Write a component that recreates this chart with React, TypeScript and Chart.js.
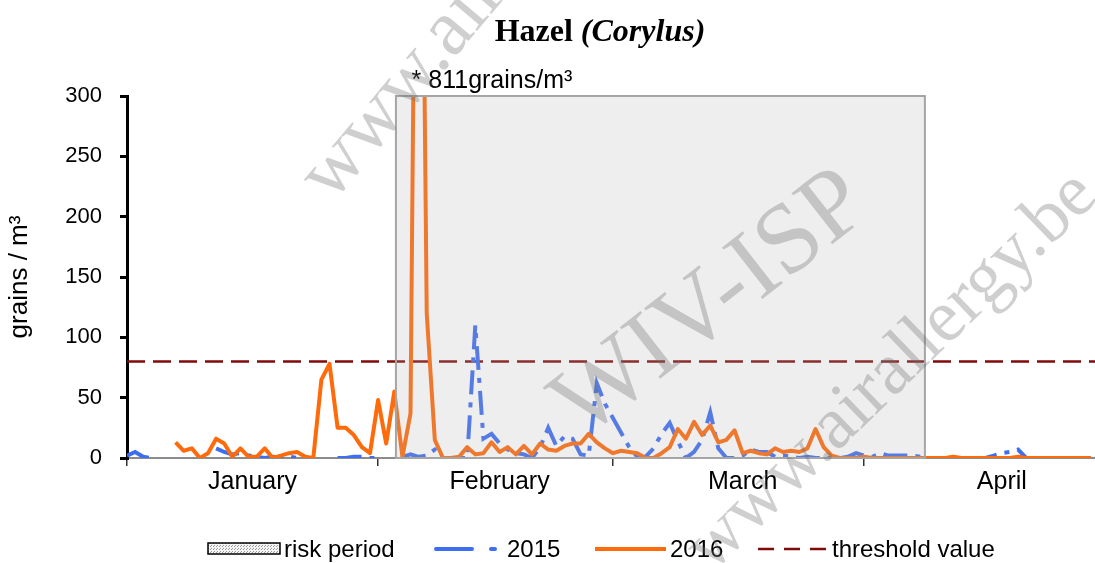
import React, { useEffect, useRef } from "react";
import { Chart, registerables } from "chart.js";

Chart.register(...registerables);

// ---------- data ----------
const TITLE_MAIN = "Hazel ";
const TITLE_LATIN = "(Corylus)";
const Y_TITLE = "grains / m³";
const MONTHS = ["January", "February", "March", "April"];
const MONTH_STARTS = [0, 31, 60, 91]; // day index of 1st of month
const MONTH_LABEL_AT = [15.5, 46, 76, 108];
const X_MAX = 119.5;
const Y_MAX = 300;
const Y_STEP = 50;

// daily values, day 0 = 1 January
const POLLEN_2015 = [
  2, 5, 1, 0, null, null, null, null, null, null,
  null, 8, 5, 3, 4, 2, 1, 0, 1, 0,
  1, 0, null, null, null, null, 0, 0, 1, 1,
  0, 0, null, null, 1, 3, 1, 2, 7, 0,
  0, 0, 0, 110, 16, 20, 12, 7, 4, 3,
  0, 9, 25, 10, 18, 16, 3, 2, 62, 45,
  33, 21, 9, 1, 1, 8, 20, 29, 14, 0,
  5, 15, 38, 8, 0, 0, 2, 7, 5, 5,
  1, 2, 1, 0, 1, 0, 0, 0, 0, 1,
  4, 2, 1, 4, 2, 2, 2, 2, 1, 0,
  0, 0, 0, 0, 0, 0, 0, 2, 4, 5,
  7, 0, 0, 0, 0, 0, 0, 0, 0, 0,
];

const POLLEN_2016 = [
  null, null, null, null, null, null, 13, 6, 8, 0,
  4, 16, 12, 1, 8, 1, 1, 8, 0, 2,
  4, 5, 1, 0, 65, 78, 25, 25, 19, 9,
  4, 48, 12, 55, 1, 37, 811, 120, 15, 0,
  0, 1, 9, 3, 4, 13, 5, 9, 3, 10,
  3, 12, 7, 6, 10, 12, 12, 20, 13, 8,
  4, 6, 5, 4, 0, 0, 4, 9, 24, 16,
  30, 19, 27, 13, 15, 23, 4, 6, 4, 3,
  8, 5, 6, 5, 8, 24, 9, 2, 0, 0,
  0, 1, 0, 0, 0, 0, 0, 0, 0, 0,
  0, 0, 1, 0, 0, 0, 0, 0, 0, 0,
  1, 0, 0, 0, 0, 0, 0, 0, 0, 0,
];

const THRESHOLD = 80;
const RISK_PERIOD = [33.2, 98.5]; // start / end day
const PEAK_DAY = 36;
const PEAK_NOTE = "* 811grains/m³";
const LEGEND_LABELS = ["risk period", "2015", "2016", "threshold value"];

const COLOR_2015 = "#3d6ef2";
const COLOR_2016 = "#ff6a0a";
const COLOR_THRESHOLD = "#800a0a";

const toPoints = (arr: (number | null)[]) => arr.map((v, i) => ({ x: i, y: v }));

export default function App() {
  const ref = useRef<HTMLCanvasElement | null>(null);

  useEffect(() => {
    const canvas = ref.current;
    if (!canvas) return;
    Chart.defaults.font.family = '"Liberation Sans", Arial, sans-serif';

    const decor = {
      id: "decor",
      afterDatasetsDraw(chart: any) {
        const { ctx, scales } = chart;
        const x = scales.x, y = scales.y;
        const x0 = x.getPixelForValue(RISK_PERIOD[0]);
        const x1 = x.getPixelForValue(RISK_PERIOD[1]);
        const yt = y.getPixelForValue(Y_MAX);
        const yb = y.getPixelForValue(0);
        ctx.save();
        ctx.fillStyle = "rgba(178,178,178,0.22)";
        ctx.fillRect(x0, yt, x1 - x0, yb - yt);
        ctx.strokeStyle = "#a5a5a5";
        ctx.lineWidth = 2;
        ctx.strokeRect(x0, yt, x1 - x0, yb - yt);
        ctx.restore();
      },
      afterDraw(chart: any) {
        const { ctx, scales } = chart;
        const x = scales.x, y = scales.y;
        ctx.save();
        // title
        ctx.fillStyle = "#000";
        ctx.textBaseline = "alphabetic";
        ctx.textAlign = "left";
        ctx.font = 'bold 32px "Liberation Serif"';
        const w1 = ctx.measureText(TITLE_MAIN).width;
        ctx.font = 'italic bold 32px "Liberation Serif"';
        const w2 = ctx.measureText(TITLE_LATIN).width;
        const tx = 600 - (w1 + w2) / 2;
        ctx.font = 'bold 32px "Liberation Serif"';
        ctx.fillText(TITLE_MAIN, tx, 41);
        ctx.font = 'italic bold 32px "Liberation Serif"';
        ctx.fillText(TITLE_LATIN, tx + w1, 41);

        // peak note
        ctx.font = '25px "Liberation Sans"';
        ctx.fillText(PEAK_NOTE, x.getPixelForValue(PEAK_DAY) - 7, y.getPixelForValue(Y_MAX) - 8);

        // legend
        const ly = 549;
        const pc = document.createElement("canvas");
        pc.width = 3; pc.height = 3;
        const pctx = pc.getContext("2d")!;
        pctx.fillStyle = "#f4f4f4"; pctx.fillRect(0, 0, 3, 3);
        pctx.fillStyle = "#9a9a9a"; pctx.fillRect(0, 0, 1, 1); pctx.fillRect(1, 2, 1, 1);
        ctx.fillStyle = ctx.createPattern(pc, "repeat");
        ctx.fillRect(208, 543, 72, 11);
        ctx.strokeStyle = "#000"; ctx.lineWidth = 1.5;
        ctx.strokeRect(208, 543, 72, 11);

        ctx.font = '24px "Liberation Sans"';
        ctx.fillStyle = "#000";
        ctx.textBaseline = "middle";
        ctx.fillText(LEGEND_LABELS[0], 284, ly + 1);

        ctx.lineCap = "round";
        ctx.strokeStyle = COLOR_2015; ctx.lineWidth = 4;
        ctx.beginPath(); ctx.moveTo(436, ly); ctx.lineTo(472, ly); ctx.stroke();
        ctx.beginPath(); ctx.moveTo(491, ly); ctx.lineTo(495, ly); ctx.stroke();
        ctx.fillText(LEGEND_LABELS[1], 507, ly + 1);

        ctx.lineCap = "butt";
        ctx.strokeStyle = COLOR_2016; ctx.lineWidth = 4;
        ctx.beginPath(); ctx.moveTo(595, ly); ctx.lineTo(666, ly); ctx.stroke();
        ctx.fillText(LEGEND_LABELS[2], 670, ly + 1);

        ctx.strokeStyle = COLOR_THRESHOLD; ctx.lineWidth = 2.5;
        [758, 784, 810].forEach((s) => {
          ctx.beginPath(); ctx.moveTo(s, ly); ctx.lineTo(s + 16, ly); ctx.stroke();
        });
        ctx.fillText(LEGEND_LABELS[3], 832, ly + 1);

        // watermark
        ctx.fillStyle = "rgba(110,110,110,0.33)";
        ctx.textAlign = "center";
        ctx.textBaseline = "middle";
        ctx.font = '100px "Liberation Serif"';
        ctx.translate(712, 305);
        ctx.rotate((-38 * Math.PI) / 180);
        ctx.fillText("WIV-ISP", 0, 0);
        ctx.setTransform(1, 0, 0, 1, 0, 0);
        ctx.font = '74px "Liberation Serif"';
        ctx.translate(892, 372);
        ctx.rotate((-44 * Math.PI) / 180);
        ctx.fillText("www.airallergy.be", 0, 0);
        ctx.setTransform(1, 0, 0, 1, 0, 0);
        ctx.textAlign = "left";
        ctx.font = '80px "Liberation Serif"';
        ctx.translate(316, 190);
        ctx.rotate((-50 * Math.PI) / 180);
        ctx.fillText("www.airallergy.be", 0, 0);
        ctx.restore();
      },
    };

    const chart = new Chart(canvas, {
      type: "line",
      data: {
        datasets: [
          {
            label: "2016",
            data: toPoints(POLLEN_2016),
            borderColor: COLOR_2016,
            borderWidth: 4,
            pointRadius: 0,
            tension: 0,
            borderJoinStyle: "round",
            spanGaps: false,
          },
          {
            label: "2015",
            data: toPoints(POLLEN_2015),
            borderColor: COLOR_2015,
            borderWidth: 4,
            borderDash: [24, 8, 5, 8],
            pointRadius: 0,
            tension: 0,
            spanGaps: false,
          },
          {
            label: "threshold value",
            data: [
              { x: 0, y: THRESHOLD },
              { x: X_MAX, y: THRESHOLD },
            ],
            borderColor: COLOR_THRESHOLD,
            borderWidth: 2.5,
            borderDash: [18, 8],
            pointRadius: 0,
          },
        ],
      },
      options: {
        responsive: false,
        animation: false,
        devicePixelRatio: 1,
        layout: { padding: { top: 96, bottom: 55, left: 0, right: 0 } },
        plugins: { legend: { display: false }, tooltip: { enabled: false }, title: { display: false } },
        scales: {
          x: {
            type: "linear",
            min: 0,
            max: X_MAX,
            afterBuildTicks: (s: any) => {
              s.ticks = [...MONTH_STARTS, ...MONTH_LABEL_AT]
                .sort((a, b) => a - b)
                .map((v) => ({ value: v }));
            },
            afterFit: (s: any) => {
              s.height = 50;
            },
            ticks: {
              autoSkip: false,
              maxRotation: 0,
              padding: 1,
              color: "#000",
              font: { size: 25 },
              callback: (v: any) => {
                const i = MONTH_LABEL_AT.indexOf(Number(v));
                return i >= 0 ? MONTHS[i] : "";
              },
            },
            grid: {
              drawOnChartArea: false,
              tickLength: 8,
              lineWidth: 1.5,
              color: (c: any) =>
                c.tick && MONTH_STARTS.includes(c.tick.value) ? "#333" : "rgba(0,0,0,0)",
            },
            border: { color: "#8c8c8c", width: 2 },
          },
          y: {
            min: 0,
            max: Y_MAX,
            afterFit: (s: any) => {
              s.width = 127;
            },
            ticks: { stepSize: Y_STEP, padding: 18, color: "#000", font: { size: 22 } },
            grid: { drawOnChartArea: false, tickLength: 7, lineWidth: 3, color: "#000" },
            border: { color: "#000", width: 3 },
            title: {
              display: true,
              text: Y_TITLE,
              color: "#000",
              font: { size: 26 },
              padding: { top: 4, bottom: 0 },
            },
          },
        },
      },
      plugins: [decor],
    } as any);

    return () => chart.destroy();
  }, []);

  return (
    <div style={{ position: "absolute", left: 0, top: 0, width: 1095, height: 563, background: "#fff" }}>
      <canvas ref={ref} width={1095} height={563} />
    </div>
  );
}
